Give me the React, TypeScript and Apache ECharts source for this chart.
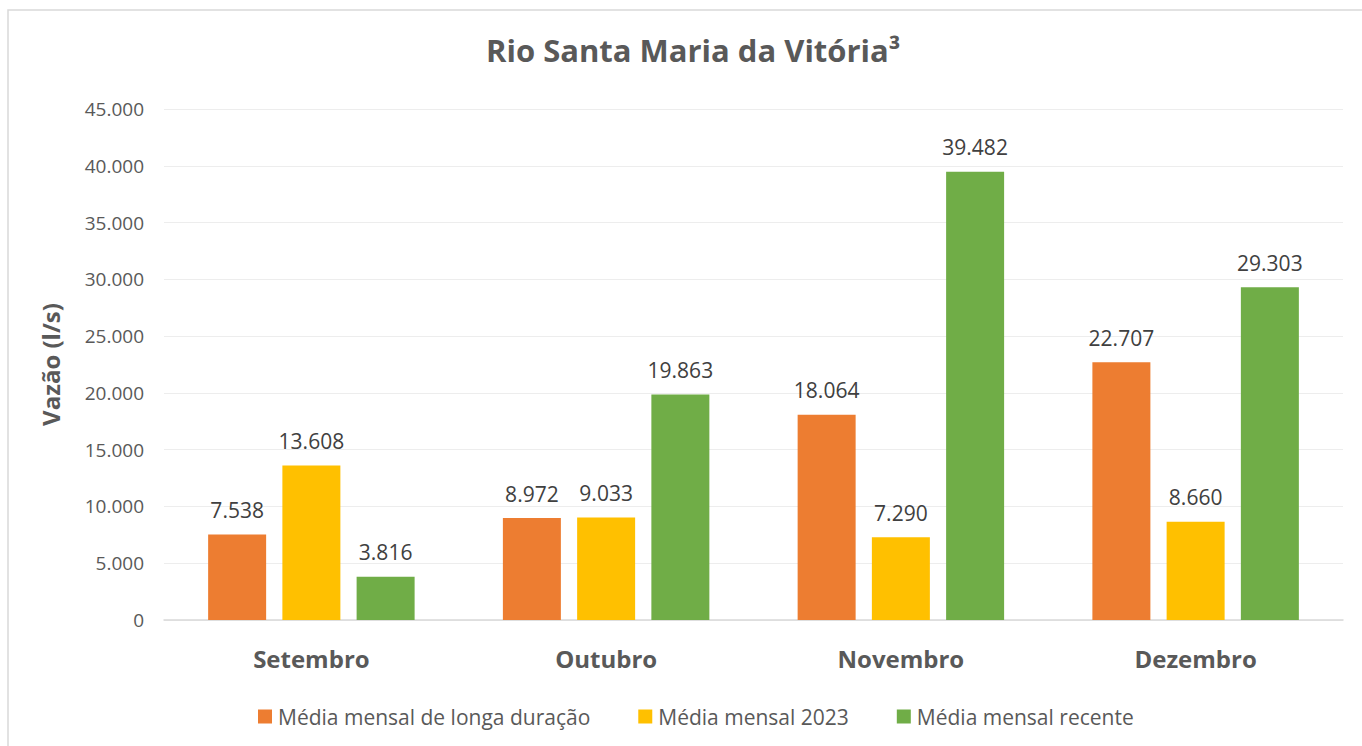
import React, { useEffect, useRef } from "react";
import * as echarts from "echarts";

const categories = ["Setembro", "Outubro", "Novembro", "Dezembro"];
const seriesNames = ["Média mensal de longa duração", "Média mensal 2023", "Média mensal recente"];
const longaDuracao = [7538, 8972, 18064, 22707];
const media2023 = [13608, 9033, 7290, 8660];
const recente = [3816, 19863, 39482, 29303];
const colors = ["#ED7D31", "#FFC000", "#70AD47"];

const fmt = (v: number) => {
  const s = Math.round(v).toString();
  return s.replace(/\B(?=(\d{3})+(?!\d))/g, ".");
};

const FONT = "Open Sans";

export default function App() {
  const ref = useRef<HTMLDivElement>(null);
  useEffect(() => {
    const chart = echarts.init(ref.current!, null, { renderer: "svg" });
    const data = [longaDuracao, media2023, recente];
    chart.setOption({
      animation: false,
      backgroundColor: "#ffffff",
      textStyle: { fontFamily: FONT },
      graphic: [
        {
          type: "rect",
          shape: { x: 8, y: 10, width: 1400, height: 800 },
          style: { fill: "none", stroke: "#D9D9D9", lineWidth: 1.5 },
          silent: true,
        },
      ],
      title: {
        text: "Rio Santa Maria da Vitória³",
        left: 481,
        top: 29,
        textStyle: { fontFamily: FONT, fontSize: 31, fontWeight: "bold", color: "#595959" },
      },
      legend: {
        top: 701,
        left: 253,
        itemWidth: 14,
        itemHeight: 14,
        itemGap: 48,
        icon: "rect",
        textStyle: { fontFamily: FONT, fontSize: 21, color: "#595959", padding: [0, 0, 0, 1] },
        data: seriesNames,
      },
      grid: { left: 164, right: 19, top: 109, bottom: 126, containLabel: false },
      xAxis: {
        type: "category",
        data: categories,
        axisLine: { lineStyle: { color: "#D9D9D9", width: 1.5 } },
        axisTick: { show: false },
        axisLabel: { fontFamily: FONT, fontSize: 24, fontWeight: "bold", color: "#595959", margin: 26 },
      },
      yAxis: {
        type: "value",
        min: 0,
        max: 45000,
        interval: 5000,
        name: "Vazão (l/s)",
        nameLocation: "middle",
        nameGap: 102,
        nameTextStyle: { fontFamily: FONT, fontSize: 24, fontWeight: "bold", color: "#595959" },
        axisLine: { show: false },
        axisTick: { show: false },
        splitLine: { lineStyle: { color: "#EDEDED", width: 1.2 } },
        axisLabel: { fontFamily: FONT, fontSize: 19, color: "#595959", margin: 20, formatter: (v: number) => fmt(v) },
      },
      series: seriesNames.map((name, i) => ({
        name,
        type: "bar",
        data: data[i],
        barWidth: 58,
        barGap: "28%",
        itemStyle: { color: colors[i] },
        label: {
          show: true,
          position: "top",
          distance: 14,
          fontFamily: FONT,
          fontSize: 21,
          color: "#404040",
          formatter: (p: any) => fmt(p.value),
        },
      })),
    });
    return () => chart.dispose();
  }, []);
  return <div ref={ref} style={{ position: "absolute", left: 0, top: 0, width: 1362, height: 746 }} />;
}
